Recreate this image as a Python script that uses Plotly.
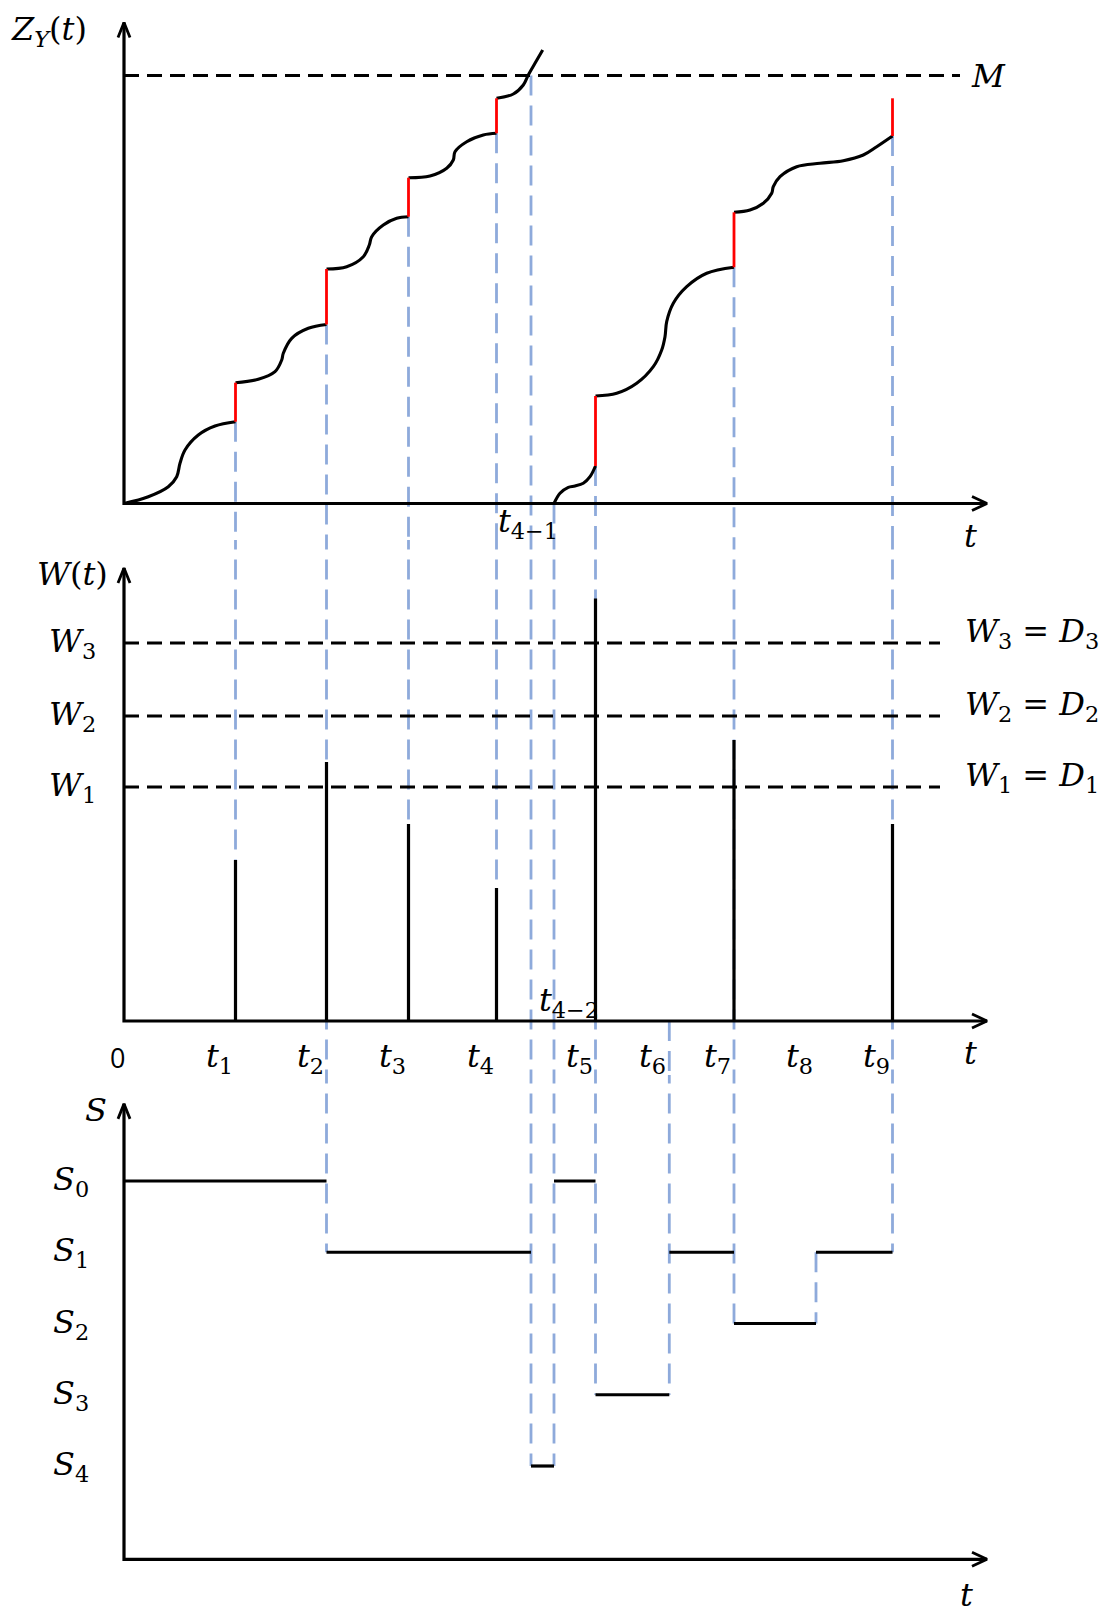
import plotly.graph_objects as go

# ------------------------------------------------------------------
# Event instants on the common time axis
# ------------------------------------------------------------------
T_EVENTS = [11.15, 20.25, 28.45, 37.25, 47.15, 54.53, 61.0, 69.2, 76.85]   # t1 .. t9
T1, T2, T3, T4, T5, T6, T7, T8, T9 = T_EVENTS
T_4_1 = 40.7
T_4_2 = 43.0

# ------------------------------------------------------------------
# Z_Y(t): degradation path, one smooth piece between successive jumps
# ------------------------------------------------------------------
M_THRESHOLD = 42.8

Z_PIECE_T = [
    [0.0, 2.43, 4.43, 5.27, 5.6, 6.1, 7.43, 9.1, 11.15],
    [11.15, 13.43, 15.1, 15.77, 15.93, 16.77, 18.43, 20.25],
    [20.25, 22.27, 23.93, 24.53, 24.77, 25.93, 27.27, 28.45],
    [28.45, 30.6, 32.27, 32.93, 33.1, 34.27, 35.93, 37.25],
    [37.25, 38.93, 39.93, 40.43, 41.1, 41.87],
    [43.0, 43.6, 44.43, 45.1, 45.93, 46.6, 47.15],
    [47.15, 49.27, 51.27, 52.93, 53.77, 54.1, 54.27, 54.93, 56.27, 58.27, 61.0],
    [61.0, 62.6, 63.93, 64.77, 64.93, 65.6, 67.27, 69.6, 71.93, 73.93, 75.27, 76.85],
]
Z_PIECE_V = [
    [0.0, 0.68, 1.68, 2.68, 4.02, 5.35, 6.85, 7.75, 8.18],
    [12.08, 12.42, 13.18, 14.35, 15.02, 16.52, 17.52, 17.9],
    [23.45, 23.68, 24.68, 25.85, 26.68, 27.85, 28.52, 28.68],
    [32.58, 32.75, 33.52, 34.35, 35.18, 36.18, 36.85, 37.02],
    [40.52, 40.95, 41.85, 42.85, 44.02, 45.35],
    [0.0, 1.02, 1.62, 1.75, 2.02, 2.68, 3.75],
    [10.75, 11.02, 12.02, 13.68, 15.35, 16.68, 18.18, 20.02, 21.68, 23.02, 23.62],
    [29.12, 29.35, 30.02, 31.02, 31.68, 32.68, 33.68, 34.02, 34.28, 34.85, 35.68, 36.75],
]

# shock-induced jumps of Z_Y(t)
JUMP_T = [T1, T2, T3, T4, T5, T7, T9]
JUMP_LOW = [8.18, 17.9, 28.68, 37.02, 3.75, 23.62, 36.75]
JUMP_HIGH = [12.08, 23.45, 32.58, 40.52, 10.75, 29.12, 40.52]

# ------------------------------------------------------------------
# W(t): shock magnitudes and thresholds
# ------------------------------------------------------------------
W_LEVELS = [23.4, 30.5, 37.8]          # W1, W2, W3
W_EVENT_T = [T1, T2, T3, T4, T5, T7, T9]
W_EVENT_V = [16.1, 25.9, 19.7, 13.3, 42.25, 28.1, 19.7]

# ------------------------------------------------------------------
# S: system state (S0 .. S4) over time
# ------------------------------------------------------------------
S_LEVELS = [0, 1, 2, 3, 4]
S_CHANGE_T = [0.0, T2, T_4_1, T_4_2, T5, T6, T7, T8, T9]
S_STATE = [0, 1, 4, 0, 3, 1, 2, 1]

# ------------------------------------------------------------------
# Figure geometry
# ------------------------------------------------------------------
FIG_W, FIG_H = 1105, 1613
X_RANGE = [-12.4, 98.1]
PANELS = {
    "z": dict(axis="y", name="yaxis", dom=[0.66522, 1.0], rng=[-3.65, 50.35]),
    "w": dict(axis="y2", name="yaxis2", dom=[0.33354, 0.66522], rng=[-5.4, 48.1]),
    "s": dict(axis="y3", name="yaxis3", dom=[0.0, 0.33354], rng=[6.063, -1.488]),
}
ORDER = ["z", "w", "s"]

# axis extents (data units of each panel)
Z_AXIS_TOP, W_AXIS_TOP = 48.1, 45.3
S_AXIS_BASE, S_AXIS_TOP = 5.31, -1.083
X_AXIS_END = 86.3
M_LINE_END = 83.6
W_LINE_END = 81.6

BLACK = "#000000"
RED = "#FF0000"
BLUE = "#8EAADB"
SERIF = "DejaVu Serif"
FS = 32


def x_per_px():
    return (X_RANGE[1] - X_RANGE[0]) / FIG_W


def y_per_px(p):
    d = PANELS[p]
    return (d["rng"][1] - d["rng"][0]) / ((d["dom"][1] - d["dom"][0]) * FIG_H)


def beyond(p, side):
    d = PANELS[p]
    span = d["rng"][1] - d["rng"][0]
    return d["rng"][1] + 0.3 * span if side == "top" else d["rng"][0] - 0.3 * span


fig = go.Figure()


def line(p, xs, ys, color=BLACK, width=3, dash="solid", shape="linear"):
    fig.add_trace(go.Scatter(
        x=xs, y=ys, mode="lines", yaxis=PANELS[p]["axis"], xaxis="x",
        line=dict(color=color, width=width, dash=dash, shape=shape),
        hoverinfo="skip", showlegend=False, connectgaps=False))


# ---- blue dashed projection lines linking the three panels ----
CONNECTORS = [
    (T1, "z", JUMP_LOW[0], "w", W_EVENT_V[0]),
    (T2, "z", JUMP_LOW[1], "s", S_STATE[1]),
    (T3, "z", JUMP_LOW[2], "w", W_EVENT_V[2]),
    (T4, "z", JUMP_LOW[3], "w", W_EVENT_V[3]),
    (T_4_1, "z", M_THRESHOLD, "s", S_STATE[2]),
    (T_4_2, "z", 0.0, "s", S_STATE[2]),
    (T5, "z", JUMP_LOW[4], "s", S_STATE[4]),
    (T6, "w", 0.0, "s", S_STATE[4]),
    (T7, "z", JUMP_LOW[5], "s", S_STATE[6]),
    (T8, "s", S_STATE[5], "s", S_STATE[6]),
    (T9, "z", JUMP_LOW[6], "s", S_STATE[7]),
]
for t, p0, v0, p1, v1 in CONNECTORS:
    i0, i1 = ORDER.index(p0), ORDER.index(p1)
    for i in range(i0, i1 + 1):
        p = ORDER[i]
        top = v0 if i == i0 else beyond(p, "top")
        bot = v1 if i == i1 else beyond(p, "bottom")
        line(p, [t, t], [top, bot], color=BLUE, width=2.8, dash="20px,10px")

# ---- top panel: threshold M, degradation path, jumps ----
line("z", [0, M_LINE_END], [M_THRESHOLD, M_THRESHOLD], width=2.8, dash="15px,8px")
for ts, vs in zip(Z_PIECE_T, Z_PIECE_V):
    line("z", ts, vs, width=3.1, shape="spline")
jx, jy = [], []
for t, lo, hi in zip(JUMP_T, JUMP_LOW, JUMP_HIGH):
    jx += [t, t, None]
    jy += [lo, hi, None]
line("z", jx, jy, color=RED, width=2.8)

# ---- middle panel: thresholds and shock bars ----
for lv in W_LEVELS:
    line("w", [0, W_LINE_END], [lv, lv], width=2.8, dash="15px,8px")
bx, by = [], []
for t, v in zip(W_EVENT_T, W_EVENT_V):
    bx += [t, t, None]
    by += [0, v, None]
line("w", bx, by, width=3.2)

# ---- bottom panel: state trajectory ----
sx, sy = [], []
for k, st in enumerate(S_STATE):
    sx += [S_CHANGE_T[k], S_CHANGE_T[k + 1], None]
    sy += [st, st, None]
line("s", sx, sy, width=3.2)


# ---- axes with open arrowheads ----
def axes(p, base, top):
    fx, fy = x_per_px(), y_per_px(p)
    line(p, [0, 0, X_AXIS_END], [top, base, base], width=3.2)
    # vertical arrowhead
    line(p, [-6 * fx, 0, 6 * fx], [top - 15 * fy, top, top - 15 * fy], width=2.8)
    # horizontal arrowhead
    line(p, [X_AXIS_END - 15 * fx, X_AXIS_END, X_AXIS_END - 15 * fx],
         [base + 7 * fy, base, base - 7 * fy], width=2.8)


axes("z", 0.0, Z_AXIS_TOP)
axes("w", 0.0, W_AXIS_TOP)
axes("s", S_AXIS_BASE, S_AXIS_TOP)

# ---- text ----
ann = []


def label(p, x, y, text, xanchor="center", yanchor="middle", size=FS, family=SERIF, xshift=0):
    ann.append(dict(x=x, y=y, xref="x", yref=PANELS[p]["axis"], text=text, showarrow=False,
                    xanchor=xanchor, yanchor=yanchor, xshift=xshift,
                    font=dict(family=family, size=size, color=BLACK)))


label("z", -7.5, 47.3, "<i>Z</i><sub><i>Y</i></sub>(<i>t</i>)")
label("z", 86.4, M_THRESHOLD, "<i>M</i>")
label("z", 84.6, -3.2, "<i>t</i>")
label("z", T_4_1 - 0.3, -1.9, "<i>t</i><sub>4−1</sub>")

label("w", -5.2, 44.7, "<i>W</i>(<i>t</i>)")
for k, lv in enumerate(W_LEVELS):
    label("w", -5.15, lv, f"<i>W</i><sub>{k + 1}</sub>")
    label("w", 83.9, lv + 1.0, f"<i>W</i><sub>{k + 1}</sub> = <i>D</i><sub>{k + 1}</sub>",
          xanchor="left")
label("w", -0.62, -3.6, "0", family="Open Sans", size=27)
for k, t in enumerate(T_EVENTS):
    label("w", t, -3.7, f"<i>t</i><sub>{k + 1}</sub>", xanchor="right", xshift=-1)
label("w", 84.6, -3.2, "<i>t</i>")
label("w", T_4_2 + 1.5, 1.9, "<i>t</i><sub>4−2</sub>")

label("s", -2.8, -1.0, "<i>S</i>")
for lv in S_LEVELS:
    label("s", -5.35, lv, f"<i>S</i><sub>{lv}</sub>")
label("s", 84.2, 5.81, "<i>t</i>")

layout = dict(
    width=FIG_W, height=FIG_H,
    margin=dict(l=0, r=0, t=0, b=0),
    paper_bgcolor="white", plot_bgcolor="white",
    xaxis=dict(domain=[0, 1], range=X_RANGE, visible=False, fixedrange=True),
    annotations=ann,
    showlegend=False,
)
for p in ORDER:
    d = PANELS[p]
    layout[d["name"]] = dict(domain=d["dom"], range=d["rng"], visible=False,
                             anchor="x", fixedrange=True)
fig.update_layout(**layout)

fig.write_html("out.html", config={"displayModeBar": False, "staticPlot": True})
